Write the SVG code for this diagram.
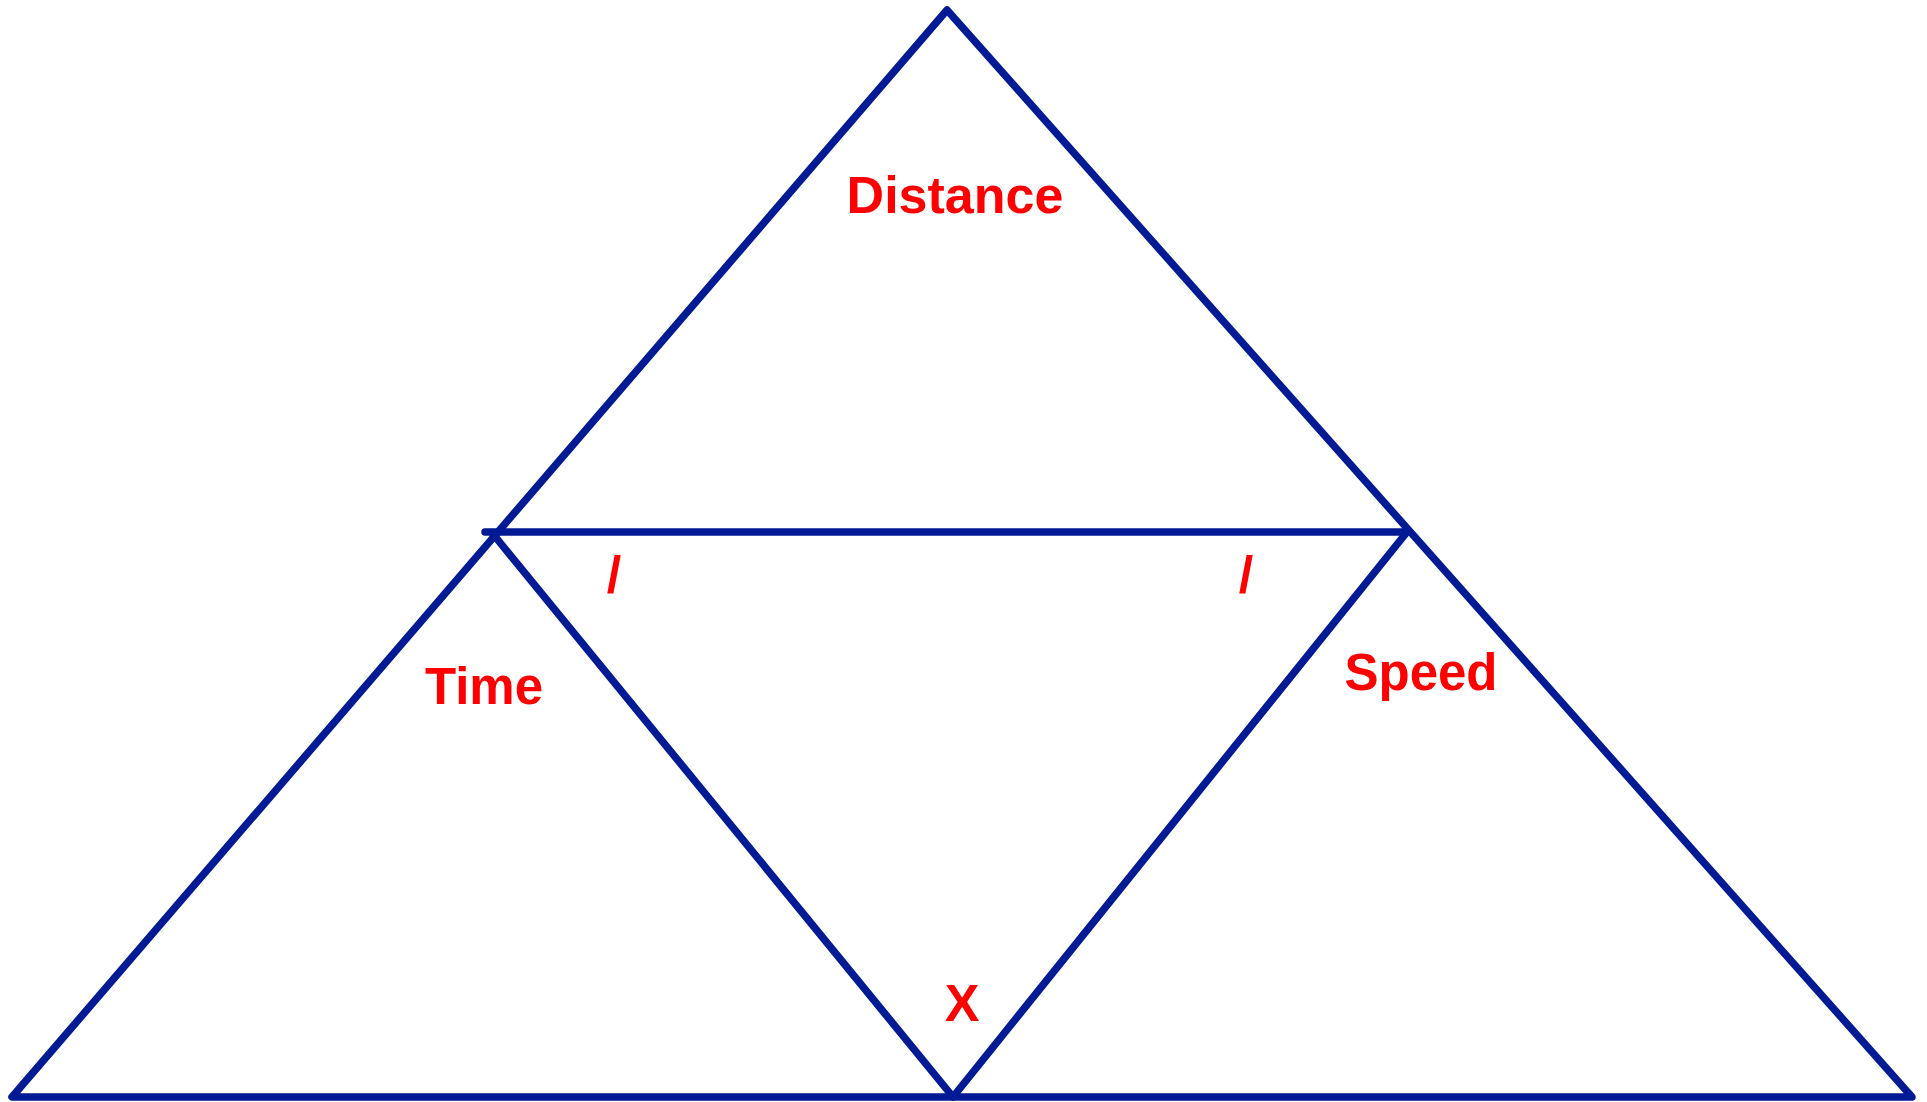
<svg xmlns="http://www.w3.org/2000/svg" width="1927" height="1102" viewBox="0 0 1927 1102">
<style>
.ln{fill:none;stroke:#021a94;stroke-width:7.5;stroke-linecap:round;stroke-linejoin:round}
.lbl{font-family:"Liberation Sans",Arial,sans-serif;font-weight:bold;fill:#ff0000;text-anchor:middle}
</style>
<rect width="1927" height="1102" fill="#ffffff"/>
<g id="connectors">
<path class="ln" d="M947,10 L12,1097 L1912,1097 Z"/>
<path class="ln" d="M485,532 L1405,532"/>
<path class="ln" d="M493,534 L953,1097 L1407,532"/>
</g>
<g id="distance"><text class="lbl" x="955" y="213" font-size="52">Distance</text></g>
<g id="time"><text class="lbl" x="484" y="704" font-size="51">Time</text></g>
<g id="speed"><text class="lbl" x="1421" y="690" font-size="51">Speed</text></g>
<g id="times"><text class="lbl" x="962" y="1021" font-size="52">X</text></g>
<g id="slash1"><text class="lbl" x="614" y="593" font-size="52" font-weight="normal">/</text></g>
<g id="slash2"><text class="lbl" x="1246" y="593" font-size="52" font-weight="normal">/</text></g>
</svg>
